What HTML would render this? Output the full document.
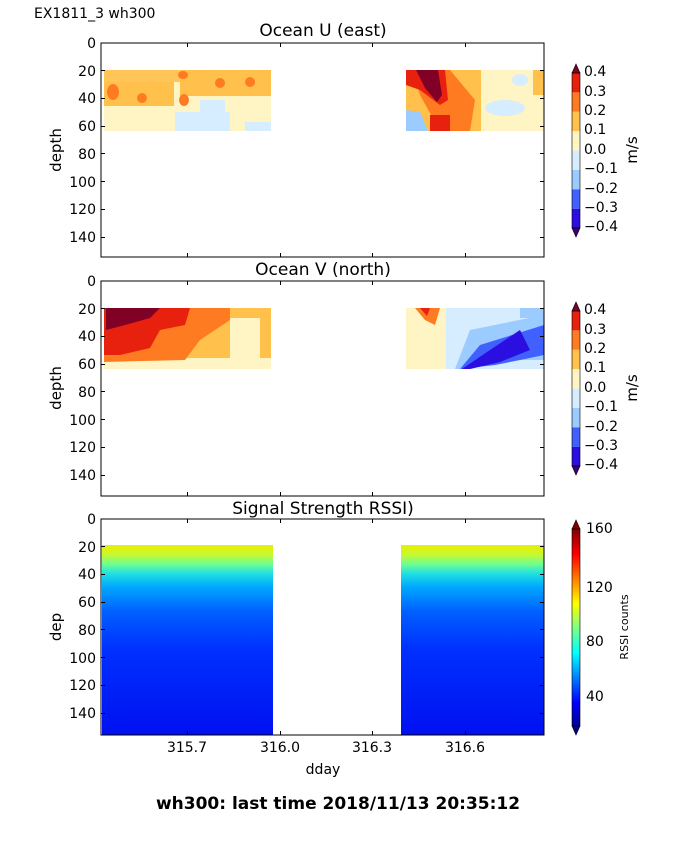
<!DOCTYPE html>
<html><head><meta charset="utf-8"><style>
body{margin:0;background:#fff}
svg{display:block;font-family:"DejaVu Sans","Liberation Sans",sans-serif}
</style></head><body>
<svg width="675" height="855" viewBox="0 0 675 855" xmlns="http://www.w3.org/2000/svg">
<defs>
<linearGradient id="rs1" x1="0" y1="0" x2="0" y2="1">
<stop offset="0" stop-color="#e8f000"/><stop offset="0.05" stop-color="#c8f830"/><stop offset="0.1" stop-color="#70ff90"/><stop offset="0.15" stop-color="#20e0e0"/><stop offset="0.22" stop-color="#00a8ff"/><stop offset="0.35" stop-color="#0060ff"/><stop offset="0.55" stop-color="#0030ff"/><stop offset="1" stop-color="#0010f0"/>
</linearGradient>
<linearGradient id="cbr" x1="0" y1="1" x2="0" y2="0">
<stop offset="0" stop-color="#00008f"/><stop offset="0.12" stop-color="#0000ff"/><stop offset="0.37" stop-color="#00ffff"/><stop offset="0.5" stop-color="#80ff80"/><stop offset="0.62" stop-color="#ffff00"/><stop offset="0.87" stop-color="#ff0000"/><stop offset="1" stop-color="#800000"/>
</linearGradient>
</defs>
<text x="34" y="18" font-size="14">EX1811_3 wh300</text>

<!-- Panel 1 -->
<text x="323" y="36" font-size="17" text-anchor="middle">Ocean U (east)</text>
<g>
<rect x="104" y="70" width="167" height="61" fill="#fff5c4"/>
<rect x="104" y="70" width="167" height="12" fill="#ffc04c" opacity="0.9"/>
<rect x="180" y="70" width="91" height="26" fill="#ffc04c"/>
<rect x="104" y="82" width="70" height="24" fill="#ffc04c"/>
<ellipse cx="113" cy="92" rx="6" ry="8" fill="#ff7b22"/>
<ellipse cx="142" cy="98" rx="5" ry="5" fill="#ff7b22"/>
<ellipse cx="184" cy="100" rx="5" ry="6" fill="#ff7b22"/>
<ellipse cx="183" cy="75" rx="5" ry="4" fill="#ff7b22"/>
<ellipse cx="220" cy="83" rx="5" ry="5" fill="#ff7b22"/>
<ellipse cx="250" cy="82" rx="5" ry="5" fill="#ff7b22"/>
<rect x="175" y="112" width="55" height="19" fill="#d6ecff"/>
<rect x="200" y="100" width="25" height="12" fill="#d6ecff"/>
<rect x="245" y="122" width="26" height="9" fill="#d6ecff"/>
<rect x="406" y="70" width="138" height="61" fill="#fff5c4"/>
<rect x="406" y="70" width="75" height="61" fill="#ffc04c"/>
<polygon points="412,70 450,70 475,100 470,131 440,131 420,95" fill="#ff7b22"/>
<polygon points="406,70 445,70 448,100 440,105 420,90 406,85" fill="#e8200e"/>
<polygon points="416,70 438,70 442,95 437,102 425,88" fill="#800026"/>
<rect x="430" y="115" width="20" height="16" fill="#e8200e"/>
<polygon points="406,110 420,112 428,131 406,131" fill="#9ccbff"/>
<ellipse cx="505" cy="108" rx="20" ry="8" fill="#d6ecff"/>
<ellipse cx="520" cy="80" rx="8" ry="6" fill="#d6ecff"/>
<rect x="533" y="70" width="11" height="25" fill="#ffc04c"/>
</g>
<rect x="101" y="43" width="443" height="214" fill="none" stroke="#000" stroke-width="1"/>

<!-- Panel 2 -->
<text x="323" y="275" font-size="17" text-anchor="middle">Ocean V (north)</text>
<g>
<rect x="104" y="308" width="167" height="61" fill="#fff5c4"/>
<rect x="104" y="308" width="167" height="50" fill="#ffc04c"/>
<polygon points="104,308 230,308 230,320 200,340 185,360 104,362" fill="#ff7b22"/>
<polygon points="104,308 190,308 185,325 160,330 150,348 120,355 104,355" fill="#e8200e"/>
<polygon points="106,308 160,308 150,318 125,325 106,330" fill="#800026"/>
<rect x="230" y="318" width="30" height="40" fill="#fff5c4"/>
<rect x="406" y="308" width="138" height="61" fill="#d6ecff"/>
<rect x="406" y="308" width="40" height="61" fill="#fff5c4"/>
<polygon points="415,308 440,308 435,325 425,320" fill="#ff7b22"/>
<polygon points="420,308 430,308 427,316" fill="#e8200e"/>
<polygon points="470,330 544,315 544,360 500,360 470,369 455,369" fill="#9ccbff"/>
<polygon points="480,345 544,325 544,355 520,360 495,365 460,369" fill="#4060ff"/>
<polygon points="490,350 520,330 530,350 500,362 470,369 462,369" fill="#2a0fe0"/>
<rect x="520" y="308" width="24" height="10" fill="#9ccbff"/>
</g>
<rect x="101" y="281" width="443" height="215" fill="none" stroke="#000" stroke-width="1"/>

<!-- Panel 3 -->
<text x="323" y="514" font-size="17" text-anchor="middle">Signal Strength RSSI)</text>
<rect x="102" y="545" width="171" height="190" fill="url(#rs1)"/>
<rect x="401" y="545" width="143" height="190" fill="url(#rs1)"/>
<rect x="101" y="519" width="443" height="216" fill="none" stroke="#000" stroke-width="1"/>

<!-- y ticks -->
<g font-size="14" text-anchor="end" fill="#000">
<text x="96" y="48">0</text><text x="96" y="76">20</text><text x="96" y="103">40</text><text x="96" y="131">60</text><text x="96" y="159">80</text><text x="96" y="187">100</text><text x="96" y="214">120</text><text x="96" y="242">140</text>
<text x="96" y="286">0</text><text x="96" y="314">20</text><text x="96" y="341">40</text><text x="96" y="369">60</text><text x="96" y="397">80</text><text x="96" y="425">100</text><text x="96" y="452">120</text><text x="96" y="480">140</text>
<text x="96" y="524">0</text><text x="96" y="552">20</text><text x="96" y="579">40</text><text x="96" y="607">60</text><text x="96" y="635">80</text><text x="96" y="663">100</text><text x="96" y="690">120</text><text x="96" y="718">140</text>
</g>
<g stroke="#000" stroke-width="1">
<path d="M101 70.5h4M101 98.5h4M101 126.5h4M101 153.5h4M101 181.5h4M101 209.5h4M101 237.5h4M540 70.5h4M540 98.5h4M540 126.5h4M540 153.5h4M540 181.5h4M540 209.5h4M540 237.5h4"/>
<path d="M101 308.5h4M101 336.5h4M101 364.5h4M101 391.5h4M101 419.5h4M101 447.5h4M101 475.5h4M540 308.5h4M540 336.5h4M540 364.5h4M540 391.5h4M540 419.5h4M540 447.5h4M540 475.5h4"/>
<path d="M101 546.5h4M101 574.5h4M101 602.5h4M101 629.5h4M101 657.5h4M101 685.5h4M101 713.5h4M540 546.5h4M540 574.5h4M540 602.5h4M540 629.5h4M540 657.5h4M540 685.5h4M540 713.5h4"/>
<path d="M187.5 43v4M280.5 43v4M372.5 43v4M465.5 43v4M187.5 257v-4M280.5 257v-4M372.5 257v-4M465.5 257v-4"/>
<path d="M187.5 281v4M280.5 281v4M372.5 281v4M465.5 281v4M187.5 496v-4M280.5 496v-4M372.5 496v-4M465.5 496v-4"/>
<path d="M187.5 519v4M280.5 519v4M372.5 519v4M465.5 519v4M187.5 735v-4M280.5 735v-4M372.5 735v-4M465.5 735v-4"/>
</g>
<g font-size="14" text-anchor="middle">
<text x="187" y="752">315.7</text><text x="280" y="752">316.0</text><text x="372" y="752">316.3</text><text x="465" y="752">316.6</text>
<text x="323" y="774">dday</text>
</g>
<g font-size="15">
<text transform="translate(61,150) rotate(-90)" text-anchor="middle">depth</text>
<text transform="translate(61,388) rotate(-90)" text-anchor="middle">depth</text>
<text transform="translate(61,627) rotate(-90)" text-anchor="middle">dep</text>
</g>

<!-- Colorbars U/V -->
<g id="cb1">
<rect x="572" y="73" width="8" height="19.4" fill="#e8200e"/>
<rect x="572" y="92.4" width="8" height="19.4" fill="#ff7b22"/>
<rect x="572" y="111.8" width="8" height="19.4" fill="#ffc04c"/>
<rect x="572" y="131.2" width="8" height="19.4" fill="#fff5c4"/>
<rect x="572" y="150.6" width="8" height="19.4" fill="#d6ecff"/>
<rect x="572" y="170" width="8" height="19.4" fill="#9ccbff"/>
<rect x="572" y="189.4" width="8" height="19.4" fill="#4060ff"/>
<rect x="572" y="208.8" width="8" height="19.2" fill="#2a0fe0"/>
<polygon points="572,228 576,237 580,228" fill="#3a0080" stroke="#000" stroke-width="0.6"/>
<polygon points="572,73 576,64 580,73" fill="#800026" stroke="#000" stroke-width="0.6"/>
<rect x="572" y="73" width="8" height="155" fill="none" stroke="#000" stroke-width="0.6"/>
<g font-size="14"><text x="584" y="76">0.4</text><text x="584" y="96">0.3</text><text x="584" y="115">0.2</text><text x="584" y="134">0.1</text><text x="584" y="154">0.0</text><text x="584" y="173">−0.1</text><text x="584" y="193">−0.2</text><text x="584" y="212">−0.3</text><text x="584" y="231">−0.4</text></g>
<text transform="translate(637,150) rotate(-90)" text-anchor="middle" font-size="15">m/s</text>
</g>
<use href="#cb1" y="238"/>

<!-- RSSI colorbar -->
<polygon points="572,529 576,520 580,529" fill="#800000" stroke="#000" stroke-width="0.6"/>
<rect x="572" y="529" width="8" height="197" fill="url(#cbr)" stroke="#000" stroke-width="0.6"/>
<polygon points="572,726 576,735 580,726" fill="#00008f" stroke="#000" stroke-width="0.6"/>
<g font-size="14"><text x="586" y="533">160</text><text x="586" y="592">120</text><text x="586" y="646">80</text><text x="586" y="701">40</text></g>
<text transform="translate(628,627) rotate(-90)" text-anchor="middle" font-size="11">RSSI counts</text>

<text x="338" y="809" font-size="17" font-weight="bold" text-anchor="middle">wh300: last time 2018/11/13 20:35:12</text>
</svg>
</body></html>
